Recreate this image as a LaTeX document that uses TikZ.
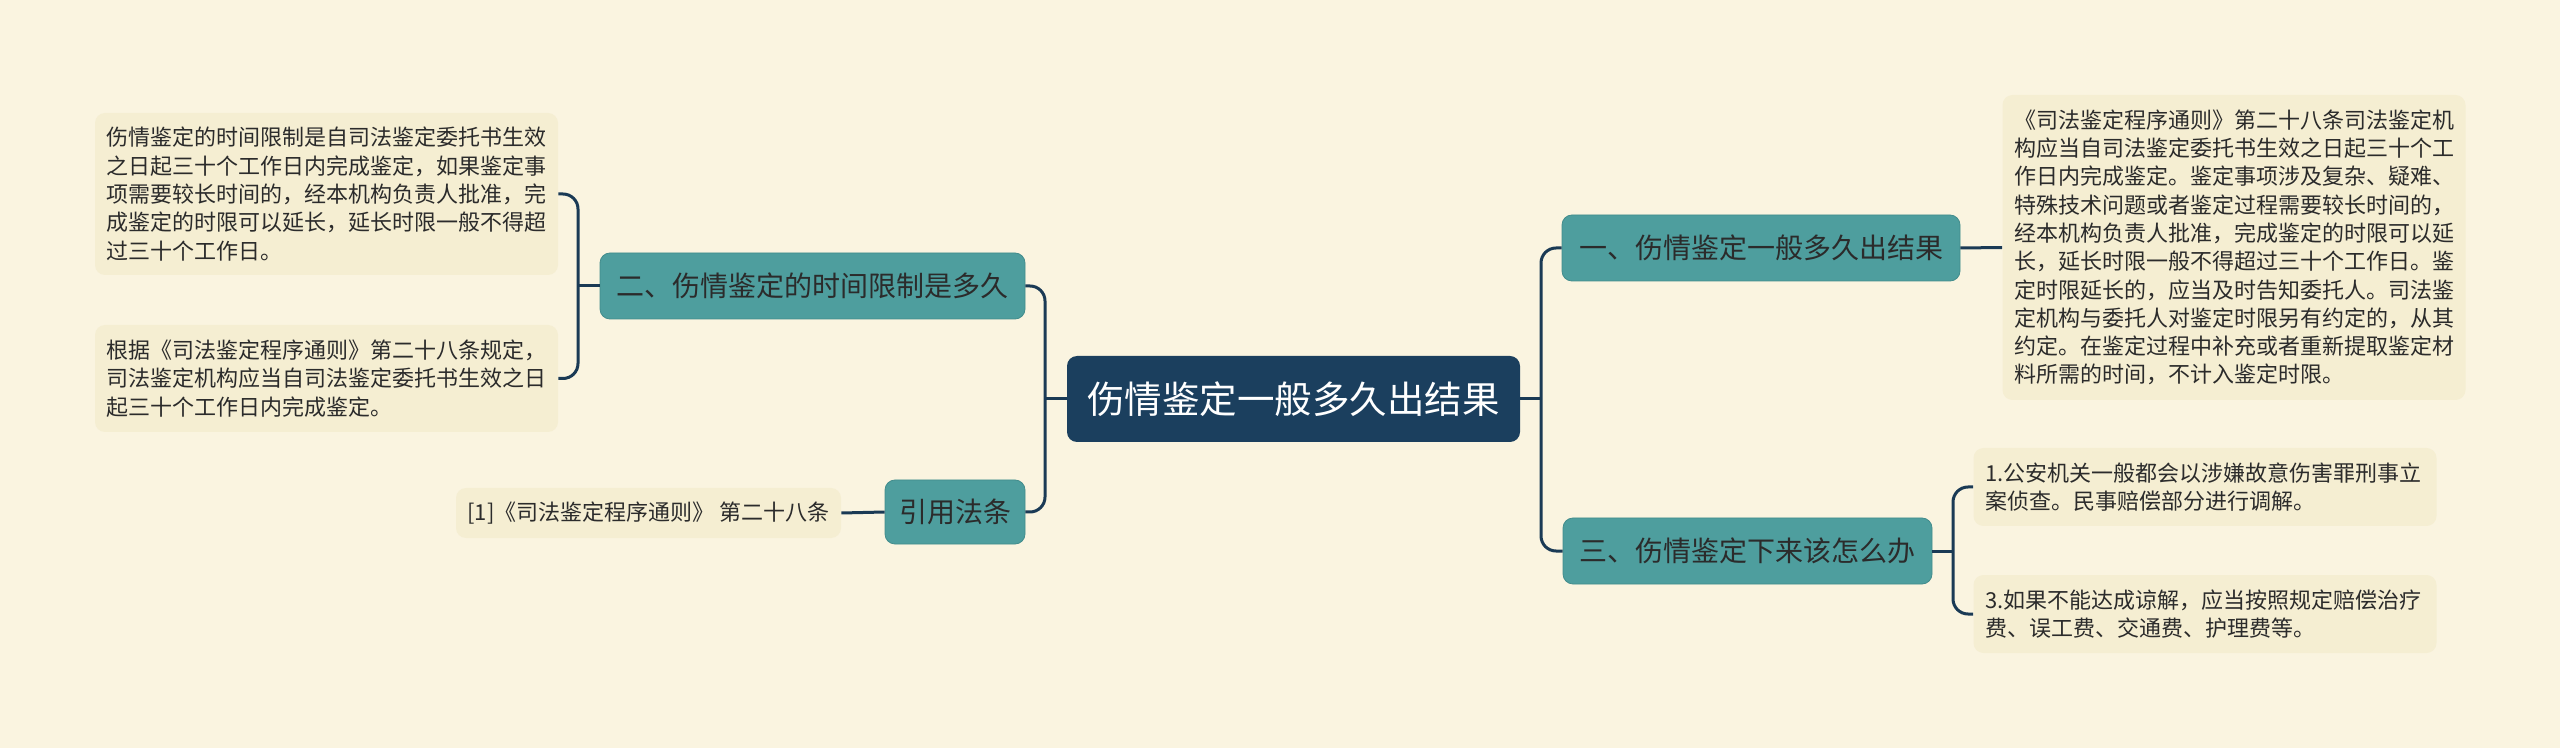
\documentclass[tikz,border=0pt]{standalone}
\usepackage{fontspec}
\setmainfont{Noto Sans CJK SC}
\definecolor{bgc}{RGB}{250,244,224}
\definecolor{leafc}{RGB}{245,238,210}
\definecolor{tealc}{RGB}{78,158,158}
\definecolor{tealb}{RGB}{66,140,140}
\definecolor{rootc}{RGB}{27,63,94}
\definecolor{linec}{RGB}{26,58,85}
\definecolor{txtc}{RGB}{43,43,43}
\begin{document}
\begin{tikzpicture}[x=0.5pt,y=-0.5pt,
  rootbox/.style={fill=rootc,rounded corners=5pt,text=white,inner sep=0pt,
    font=\fontsize{18.75pt}{22pt}\selectfont},
  branchbox/.style={fill=tealc,draw=tealb,line width=0.4pt,rounded corners=5pt,text=txtc,inner sep=0pt,
    minimum height=33pt,font=\fontsize{14pt}{17pt}\selectfont},
  leafbox/.style={fill=leafc,rounded corners=5pt,text=txtc,inner xsep=5.75pt,inner ysep=0pt,
    align=left,font=\fontsize{11pt}{14.15pt}\selectfont},
  conn/.style={draw=linec,line width=1.5pt,rounded corners=7.5pt}]
\fill[bgc] (0,0) rectangle (2560,748);
\useasboundingbox (0,0) rectangle (2560,748);

\node[rootbox,minimum width=226.5pt,minimum height=43pt] (root) at (1293.5,399) {伤情鉴定一般多久出结果};

\node[branchbox,minimum width=199pt] (b1) at (1761,248) {一、伤情鉴定一般多久出结果};
\node[branchbox,minimum width=184.5pt] (b3) at (1747.5,551) {三、伤情鉴定下来该怎么办};
\node[branchbox,minimum width=212.5pt] (b2) at (812.5,286) {二、伤情鉴定的时间限制是多久};
\node[branchbox,minimum width=70pt,minimum height=32pt] (b4) at (955,512) {引用法条};

\node[leafbox,text width=220pt,minimum height=152.5pt] (L1) at (2234,247.5) {《司法鉴定程序通则》第二十八条司法鉴定机\\构应当自司法鉴定委托书生效之日起三十个工\\作日内完成鉴定。鉴定事项涉及复杂、疑难、\\特殊技术问题或者鉴定过程需要较长时间的，\\经本机构负责人批准，完成鉴定的时限可以延\\长，延长时限一般不得超过三十个工作日。鉴\\定时限延长的，应当及时告知委托人。司法鉴\\定机构与委托人对鉴定时限另有约定的，从其\\约定。在鉴定过程中补充或者重新提取鉴定材\\料所需的时间，不计入鉴定时限。};
\node[leafbox,text width=220pt,minimum height=39pt] (L2) at (2205,487) {1.公安机关一般都会以涉嫌故意伤害罪刑事立\\案侦查。民事赔偿部分进行调解。};
\node[leafbox,text width=220pt,minimum height=39pt] (L3) at (2205,614) {3.如果不能达成谅解，应当按照规定赔偿治疗\\费、误工费、交通费、护理费等。};
\node[leafbox,text width=220pt,minimum height=81pt] (L4) at (326.5,194) {伤情鉴定的时间限制是自司法鉴定委托书生效\\之日起三十个工作日内完成鉴定，如果鉴定事\\项需要较长时间的，经本机构负责人批准，完\\成鉴定的时限可以延长，延长时限一般不得超\\过三十个工作日。};
\node[leafbox,text width=220pt,minimum height=53.5pt] (L5) at (326.5,378.5) {根据《司法鉴定程序通则》第二十八条规定，\\司法鉴定机构应当自司法鉴定委托书生效之日\\起三十个工作日内完成鉴定。};
\node[leafbox,align=center,minimum width=192.5pt,minimum height=25pt,inner xsep=0pt] (L6) at (648.5,513) {[1]《司法鉴定程序通则》 第二十八条};

\coordinate (jl) at (1045,399);
\coordinate (jr) at (1541,399);
\coordinate (j3) at (1953,551);
\coordinate (j2) at (578,286);

\draw[conn] (root.west) -- (jl);
\draw[conn] (b2.east) -| (jl) |- (b4.east);
\draw[conn] (root.east) -- (jr);
\draw[conn] (b1.west) -| (jr) |- (b3.west);
\draw[conn] (b1.east) -- (L1.west);
\draw[conn] (b3.east) -- (j3);
\draw[conn] (L2.west) -| (j3) |- (L3.west);
\draw[conn] (b2.west) -- (j2);
\draw[conn] (L4.east) -| (j2) |- (L5.east);
\draw[conn] (b4.west) -- (L6.east);
\end{tikzpicture}
\end{document}
